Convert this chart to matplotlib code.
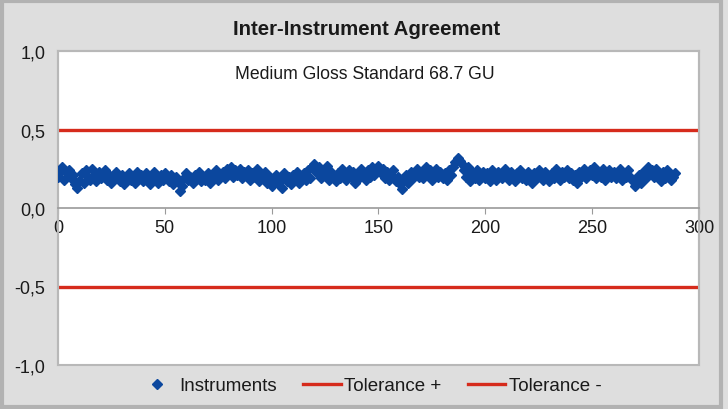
import matplotlib.pyplot as plt
from matplotlib.ticker import FuncFormatter
from matplotlib.patches import Rectangle

plt.rcParams['font.family'] = ['Liberation Sans', 'DejaVu Sans']

# Readings of the instruments, index 0..289
instruments = [
    0.20, 0.23, 0.26, 0.18, 0.22, 0.24, 0.19, 0.21, 0.15, 0.13,
    0.17, 0.22, 0.16, 0.24, 0.20, 0.18, 0.25, 0.21, 0.17, 0.23,
    0.19, 0.22, 0.24, 0.18, 0.21, 0.16, 0.20, 0.23, 0.19, 0.17,
    0.21, 0.15, 0.19, 0.22, 0.18, 0.20, 0.16, 0.23, 0.19, 0.21,
    0.17, 0.22, 0.18, 0.15, 0.20, 0.23, 0.19, 0.16, 0.21, 0.18,
    0.22, 0.19, 0.17, 0.21, 0.15, 0.20, 0.18, 0.11, 0.14, 0.19,
    0.22, 0.18, 0.20, 0.16, 0.21, 0.19, 0.23, 0.17, 0.20, 0.18,
    0.22, 0.16, 0.19, 0.21, 0.24, 0.18, 0.20, 0.23, 0.19, 0.25,
    0.22, 0.26, 0.20, 0.24, 0.21, 0.25, 0.19, 0.23, 0.21, 0.24,
    0.18, 0.22, 0.20, 0.25, 0.17, 0.21, 0.19, 0.23, 0.16, 0.20,
    0.14, 0.18, 0.21, 0.16, 0.19, 0.13, 0.22, 0.17, 0.20, 0.15,
    0.21, 0.18, 0.23, 0.16, 0.20, 0.22, 0.18, 0.24, 0.19, 0.26,
    0.28, 0.22, 0.26, 0.19, 0.24, 0.21, 0.27, 0.18, 0.23, 0.20,
    0.17, 0.22, 0.19, 0.25, 0.21, 0.18, 0.24, 0.20, 0.23, 0.16,
    0.21, 0.19, 0.25, 0.22, 0.18, 0.24, 0.20, 0.26, 0.21, 0.23,
    0.27, 0.22, 0.25, 0.19, 0.23, 0.18, 0.21, 0.24, 0.17, 0.20,
    0.15, 0.12, 0.18, 0.21, 0.16, 0.23, 0.19, 0.22, 0.25, 0.20,
    0.23, 0.19, 0.26, 0.21, 0.24, 0.18, 0.22, 0.25, 0.20, 0.23,
    0.19, 0.22, 0.18, 0.24, 0.21, 0.26, 0.29, 0.32, 0.30, 0.28,
    0.24, 0.20, 0.26, 0.17, 0.22, 0.19, 0.24, 0.18, 0.21, 0.23,
    0.19, 0.22, 0.17, 0.24, 0.20, 0.18, 0.23, 0.21, 0.19, 0.25,
    0.21, 0.18, 0.23, 0.20, 0.17, 0.22, 0.24, 0.19, 0.21, 0.18,
    0.23, 0.20, 0.16, 0.22, 0.19, 0.24, 0.21, 0.18, 0.23, 0.20,
    0.17, 0.22, 0.19, 0.25, 0.21, 0.18, 0.23, 0.20, 0.24, 0.19,
    0.22, 0.18, 0.21, 0.16, 0.23, 0.20, 0.25, 0.19, 0.22, 0.24,
    0.21, 0.26, 0.19, 0.23, 0.20, 0.25, 0.18, 0.22, 0.24, 0.20,
    0.23, 0.19, 0.21, 0.25, 0.18, 0.22, 0.20, 0.24, 0.19, 0.17,
    0.14, 0.18, 0.21, 0.16, 0.23, 0.19, 0.26, 0.22, 0.24, 0.20,
    0.25, 0.21, 0.17, 0.23, 0.19, 0.24, 0.21, 0.18, 0.20, 0.22,
]
sample_no = list(range(len(instruments)))

tolerance_plus = 0.5
tolerance_minus = -0.5
x_ticks = [0, 50, 100, 150, 200, 250, 300]
y_ticks = [-1.0, -0.5, 0.0, 0.5, 1.0]

title = 'Inter-Instrument Agreement'
note = 'Medium Gloss Standard 68.7 GU'


def main():
    fig = plt.figure(figsize=(7.28, 4.10), dpi=100)
    fig.patch.set_facecolor('#dedede')

    # outer frame of the chart
    fig.patches.append(Rectangle((0.003, 0.005), 0.988, 0.99, transform=fig.transFigure,
                                 fill=False, edgecolor='#b2b2b2', linewidth=3))

    ax = fig.add_axes([58 / 728, 1 - 366 / 410, 641 / 728, 314 / 410])
    ax.set_facecolor('white')

    ax.plot(sample_no, instruments, linestyle='none', marker='D', markersize=5.2,
            color='#0b479e', label='Instruments', zorder=3)
    ax.axhline(tolerance_plus, color='#d62b1c', linewidth=2.4, label='Tolerance +')
    ax.axhline(tolerance_minus, color='#d62b1c', linewidth=2.4, label='Tolerance -')

    ax.set_xlim(0, 300)
    ax.set_ylim(-1, 1)
    ax.set_xticks(x_ticks)
    ax.set_yticks(y_ticks)
    ax.yaxis.set_major_formatter(FuncFormatter(lambda v, p: f'{v:.1f}'.replace('.', ',')))

    # x axis crosses at zero
    ax.spines['bottom'].set_position(('data', 0))
    ax.spines['bottom'].set_color('#9a9a9a')
    ax.spines['bottom'].set_linewidth(1.2)
    for s in ['top', 'left', 'right']:
        ax.spines[s].set_color('#b8b8b8')
        ax.spines[s].set_linewidth(1.5)

    ax.tick_params(axis='x', length=4, labelsize=13, pad=4, colors='#1a1a1a')
    ax.tick_params(axis='x', color='#9a9a9a')
    ax.tick_params(axis='y', length=0, labelsize=13, pad=9, colors='#1a1a1a')

    # bottom frame line of the plot box
    ax.add_patch(Rectangle((0, 0), 1, 1, transform=ax.transAxes, fill=False,
                           edgecolor='#b8b8b8', linewidth=1.5, clip_on=False, zorder=1))

    ax.text(0.479, 0.927, note, transform=ax.transAxes, ha='center', va='center',
            fontsize=12.7, color='#1a1a1a')

    fig.text(0.503, 0.927, title, ha='center', va='center', fontsize=14.7,
             fontweight='bold', color='#1a1a1a')

    fig.legend(loc='center', bbox_to_anchor=(0.508, 0.057), ncol=3, frameon=False,
               fontsize=13.5, handlelength=2.0, handletextpad=0.2, columnspacing=1.4,
               labelcolor='#1a1a1a')

    fig.savefig('out.png', dpi=100, facecolor=fig.get_facecolor())


if __name__ == "__main__":
    main()
